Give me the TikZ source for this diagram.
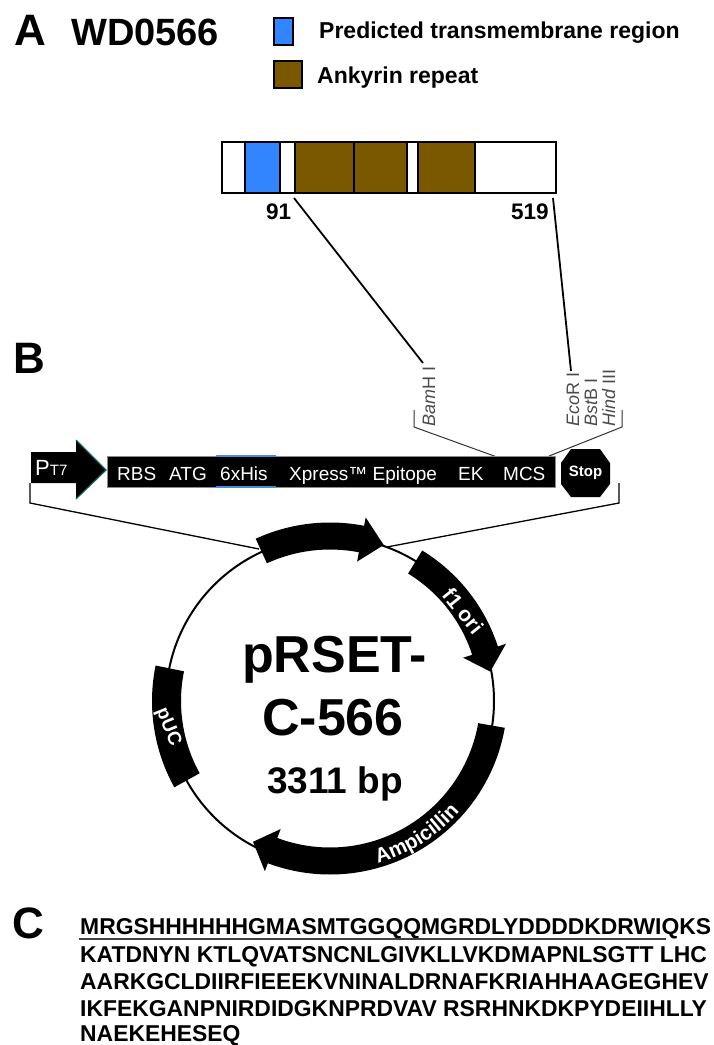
\documentclass[tikz,border=0pt]{standalone}
\usepackage{fontspec}
\setmainfont{Liberation Sans}
\usepackage{xcolor}
\usetikzlibrary{calc,arrows.meta,decorations.text}
\definecolor{AzulTM}{RGB}{51,133,255}
\definecolor{MarronAnk}{RGB}{122,88,0}
\definecolor{TealHead}{RGB}{20,95,95}
\definecolor{AzulHis}{RGB}{70,140,215}
\definecolor{GrisSitio}{RGB}{75,75,75}
\newcommand{\fsz}[1]{\fontsize{#1}{#1}\selectfont}
\newcommand{\arcarrow}[4]{\fill (#1:#4+13.5) arc[start angle=#1,end angle=#2,radius=#4+13.5] -- (#2:#4+22) -- (#3:#4) -- (#2:#4-23) -- (#2:#4-13.5) arc[start angle=#2,end angle=#1,radius=#4-13.5] -- cycle;}
\tikzset{
  txt/.style={inner sep=0pt,anchor=base west},
  panel/.style={txt,font=\bfseries\fsz{44}},
  legendtxt/.style={txt,font=\bfseries\fsz{23}},
  seqline/.style={txt,font=\bfseries\fsz{22.9}},
  bartxt/.style={txt,text=white,font=\fsz{19}},
  sitetxt/.style={txt,rotate=90,text=GrisSitio,font=\fsz{18}},
  dombox/.style={draw=black,line width=1.2pt},
}
\begin{document}
\begin{tikzpicture}[x=1pt,y=1pt]
  \useasboundingbox (0,-1045) rectangle (714,0);
  % panel A
  \node[panel] (labA) at (14,-45) {A};
  \node[txt,font=\bfseries\fsz{38}] (name) at (71,-45) {WD0566};
  \draw[dombox,fill=AzulTM] (274,-18) rectangle (293,-45);
  \draw[dombox,fill=MarronAnk] (274,-61) rectangle (302,-88);
  \node[legendtxt] (legTM) at (319,-38) {Predicted transmembrane region};
  \node[legendtxt] (legAnk) at (317,-83) {Ankyrin repeat};
  \draw[line width=2pt] (222,-142) rectangle (556,-193);
  \draw[dombox,fill=AzulTM] (245,-142) rectangle (280,-193);
  \draw[dombox,fill=MarronAnk] (295,-142) rectangle (354,-193);
  \draw[dombox,fill=MarronAnk] (354,-142) rectangle (407,-193);
  \draw[dombox,fill=MarronAnk] (418,-142) rectangle (475,-193);
  \draw[line width=2.5pt] (222,-193) -- (556,-193);
  \node[txt,font=\bfseries\fsz{22.5}] (n91) at (266,-219) {91};
  \node[txt,font=\bfseries\fsz{22.5}] (n519) at (511,-219) {519};
  \coordinate (prot91) at (294,-198);
  \coordinate (prot519) at (553,-198);
  \coordinate (bam) at (423,-363);
  \coordinate (eco) at (571,-371);
  \draw[line width=1.8pt] (prot91) -- (bam);
  \draw[line width=1.8pt] (prot519) -- (eco);
  % panel B
  \node[panel] (labB) at (13,-373) {B};
  \node[sitetxt] (sBam) at (435,-427) {\textit{Bam}H I};
  \node[sitetxt] (sEco) at (579,-427) {\textit{Eco}R I};
  \node[sitetxt] (sBst) at (597,-427) {\textit{Bst}B I};
  \node[sitetxt] (sHind) at (615,-427) {\textit{Hind} III};
  \coordinate (mcsL) at (497,-457);
  \coordinate (mcsR) at (549,-456);
  \draw[line width=1pt,black!80] (414,-410) -- (414,-427) -- (mcsL);
  \draw[line width=1pt,black!80] (622,-410) -- (622,-427) -- (mcsR);
  \fill[black] (31,-452) -- (76,-452) -- (76,-440) -- (106,-470) -- (76,-499) -- (76,-483) -- (31,-483) -- cycle;
  \draw[TealHead,line width=1.2pt] (76,-440) -- (106,-470) -- (76,-499);
  \node[txt,text=white,font=\fsz{22}] (pt) at (35,-475) {P\raisebox{0pt}{\fsz{15}T7}};
  \node[fill=black,draw=black!45,line width=.6pt,minimum width=447.5pt,minimum height=31pt,inner sep=0pt] (bar) at (331.25,-471.5) {};
  \draw[AzulHis,line width=1.2pt] (216,-456) -- (276,-456);
  \draw[AzulHis,line width=1.2pt] (216,-487) -- (276,-487);
  \node[bartxt] (rbs) at (117,-480) {RBS};
  \node[bartxt] (atg) at (169,-480) {ATG};
  \node[bartxt] (his) at (220,-480) {6xHis};
  \node[bartxt] (xpr) at (289,-480) {Xpress™ Epitope};
  \node[bartxt] (ek) at (458,-480) {EK};
  \node[bartxt] (mcs) at (503,-480) {MCS};
  \fill (571,-449) -- (600,-449) -- (610,-463) -- (610,-484) -- (600,-497) -- (571,-497) -- (561,-484) -- (561,-463) -- cycle;
  \node[txt,anchor=center,text=white,font=\bfseries\fsz{15}] (stop) at (585.5,-473) {Stop};
  \coordinate (plasL) at (259,-549);
  \coordinate (plasR) at (387,-547);
  \draw[line width=1.3pt] (30,-483) -- (30,-503) -- (plasL);
  \draw[line width=1.3pt] (619,-483) -- (619,-503) -- (plasR);
  % plasmid
  \begin{scope}[shift={(330,-701)}]
    \draw[line width=2pt] (0,0) circle (164);
    \arcarrow{114.6}{79}{71}{165}
    \arcarrow{58.5}{18}{10.4}{163}
    \fill (168.5:178) arc[start angle=168.5,end angle=209,radius=178] -- (209:149) arc[start angle=209,end angle=168.5,radius=149] -- cycle;
  \end{scope}
  \begin{scope}[shift={(330,-697)}]
    \arcarrow{-10}{-110.5}{-118}{164}
    \path[decorate,decoration={text along path,text align=center,text={|\bfseries\fsz{20.5}\color{white}|Ampicillin}}] (-83:173) arc[start angle=-83,end angle=-32.4,radius=173];
  \end{scope}
  \node[inner sep=0pt,rotate=-51,text=white,font=\bfseries\fsz{21}] (ori) at (463,-611) {f1 ori};
  \node[inner sep=0pt,rotate=-68,text=white,font=\bfseries\fsz{19}] (puc) at (168,-727) {pUC};
  \node[txt,font=\bfseries\fsz{52}] (t1) at (242,-672) {pRSET-};
  \node[txt,font=\bfseries\fsz{52}] (t2) at (262,-735) {C-566};
  \node[txt,font=\bfseries\fsz{37}] (t3) at (267,-793) {3311 bp};
  % panel C
  \node[panel] (labC) at (12,-938) {C};
  \node[seqline] (s1) at (80,-934) {MRGSHHHHHHGMASMTGGQQMGRDLYDDDDKDRWIQKS};
  \node[seqline] (s2) at (80,-962) {KATDNYN KTLQVATSNCNLGIVKLLVKDMAPNLSGTT LHC};
  \node[seqline] (s3) at (80,-989) {AARKGCLDIIRFIEEEKVNINALDRNAFKRIAHHAAGEGHEV};
  \node[seqline] (s4) at (80,-1016) {IKFEKGANPNIRDIDGKNPRDVAV RSRHNKDKPYDEIIHLLY};
  \node[seqline] (s5) at (80,-1041) {NAEKEHESEQ};
  \draw[black!75,line width=1.8pt] (79,-939) -- (666,-939);
\end{tikzpicture}
\end{document}
